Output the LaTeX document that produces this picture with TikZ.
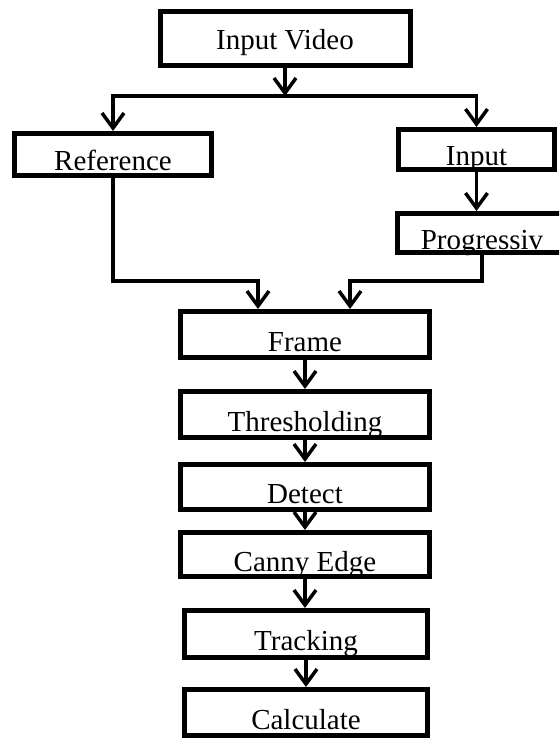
\documentclass[tikz,border=0pt]{standalone}
\usepackage{fontspec}
\setmainfont{Liberation Serif}
\usetikzlibrary{arrows.meta,calc}

\begin{document}
\begin{tikzpicture}[x=1pt, y=-1pt, >={Straight Barb[length=15pt,width=22pt]},
    caja/.style={draw, line width=5pt, inner sep=0pt, minimum width=249pt, minimum height=45pt,
      text height=33pt, text depth=0pt, font=\fontsize{29}{33}\selectfont},
    flecha/.style={line width=3.5pt, ->}]
      \def\cx{305}
      \def\ancho{559}
      \def\alto{738}

      \useasboundingbox (0,0) rectangle (\ancho,\alto);
      \clip (0,0) rectangle (\ancho,\alto);

      % Entrada
      \node[caja, minimum width=250pt, minimum height=54pt, text height=23pt] (video) at (285,38.5) {Input Video};
      \node[caja, minimum width=197pt, minimum height=42pt] (ref) at (113,154.5) {Reference};
      \node[caja, minimum width=156pt, minimum height=40pt] (inp) at (476.5,149.5) {Input};
      \node[caja, minimum width=169pt, minimum height=39pt] (prog) at (482,233) {Progressiv};

      % Cadena central
      \node[caja, minimum height=46pt] (frame) at (\cx,334.5) {Frame};
      \node[caja, minimum height=46pt] (thr) at (\cx,414.5) {Thresholding};
      \node[caja] (det) at (\cx,487) {Detect};
      \node[caja, minimum height=44pt] (canny) at (\cx,554.5) {Canny Edge};
      \node[caja, minimum width=243pt, minimum height=47pt] (track) at (306,634) {Tracking};
      \node[caja, minimum width=243pt, minimum height=46pt] (calc) at (306,712.5) {Calculate};

      % Puntos de union
      \coordinate (split) at (285,96);
      \coordinate (joinl) at (258,281);
      \coordinate (joinr) at (350,281);

      % Conexiones
      \draw[flecha] (video) -- (split);
      \draw[flecha] (split) -| (ref);
      \draw[flecha] (split) -| (inp);
      \draw[flecha] (inp.south) -- (inp.south |- prog.north);
      \draw[flecha] (ref.south) |- (joinl) -- (joinl |- frame.north);
      \draw[flecha] (prog.south) |- (joinr) -- (joinr |- frame.north);

      \foreach \a/\b in {frame/thr, thr/det, det/canny, canny/track, track/calc} {
        \draw[flecha] (\a.south) -- (\a.south |- \b.north);
      }
\end{tikzpicture}
\end{document}
